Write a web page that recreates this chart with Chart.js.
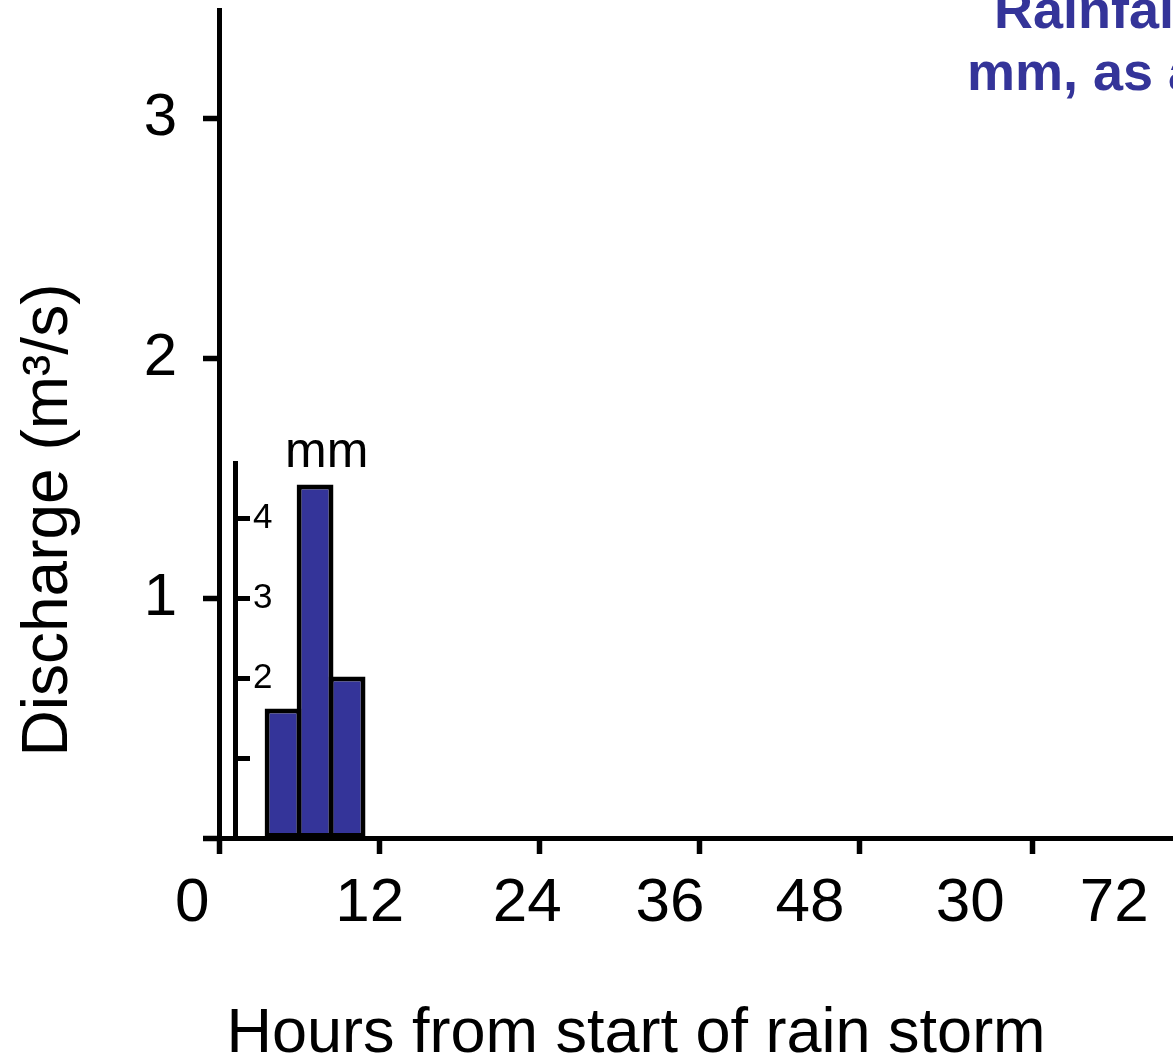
<!DOCTYPE html>
<html>
<head>
<meta charset="utf-8">
<title>Storm hydrograph</title>
<script src="https://cdn.jsdelivr.net/npm/chart.js@4.4.0/dist/chart.umd.min.js"></script>
<style>
  html, body { margin: 0; padding: 0; background: #fff; }
  canvas { display: block; }
</style>
</head>
<body>
<canvas id="hydrograph" width="1173" height="1063"></canvas>
<script>
// rainfall bars: hour at the bar centre, depth in mm
const rainHours = [4.8, 7.2, 9.6];
const rainMm = [1.62, 4.42, 2.02];

// discharge axis (m3/s)
const dischargeTicks = [0, 1, 2, 3];
const dischargeLabels = ['', '1', '2', '3'];

// hour axis: tick marks and printed labels do not line up exactly
const hourTicks = [0, 12, 24, 36, 48, 61];
const hourLabelPos = [-2.0, 11.3, 23.1, 33.8, 44.3, 56.3, 67.1];
const hourLabels = ['0', '12', '24', '36', '48', '30', '72'];

// small rainfall axis inside the plot
const rainTicks = [1, 2, 3, 4];
const rainLabels = ['', '2', '3', '4'];

const FONT = "'Liberation Sans', Arial, Helvetica, sans-serif";
const HOUR_MAX = 71.5;
const DISCHARGE_MAX = 3.45;
const RAIN_MAX = 4.69;
const RAIN_AXIS_AT = 1.2;      // hours
const RAIN_AXIS_TOP = 1.5625;  // same height in m3/s
const PLOT_LEFT = 219;
const PLOT_BOTTOM = 838;
const TICK_LEN = 16;
const LINE_W = 5;
const BLUE = '#343499';

// keep scale boxes at a fixed size, no extra label padding
function fixBox(scale, size) {
  if (scale.isHorizontal()) scale.height = size;
  else scale.width = size;
  scale.paddingTop = scale.paddingBottom = scale.paddingLeft = scale.paddingRight = 0;
}

const setTicks = values => scale => {
  scale.ticks = values.map(v => ({ value: v }));
};

// move the rainfall axis into the plot, on the hour axis near zero
const rainAxisPlacer = {
  id: 'rainAxisPlacer',
  afterLayout(chart) {
    const s = chart.scales.rain;
    const x = chart.scales.x.getPixelForValue(RAIN_AXIS_AT);
    s.left = x;
    s.right = x + 60;
    s.width = 60;
    s.top = chart.scales.y.getPixelForValue(RAIN_AXIS_TOP);
    s.bottom = chart.scales.y.getPixelForValue(0);
    s.height = s.bottom - s.top;
    s.configure();
  }
};

// axis titles and the rainfall note
const titles = {
  id: 'titles',
  afterDraw(chart) {
    const ctx = chart.ctx;
    const rain = chart.scales.rain;
    ctx.save();
    ctx.fillStyle = '#000';

    ctx.font = `64px ${FONT}`;
    ctx.textAlign = 'center';
    ctx.textBaseline = 'middle';
    ctx.save();
    ctx.translate(49, 520);
    ctx.rotate(-Math.PI / 2);
    ctx.fillText('Discharge (m\u00b3/s)', 0, 0);
    ctx.restore();

    ctx.font = `63px ${FONT}`;
    ctx.textBaseline = 'alphabetic';
    ctx.fillText('Hours from start of rain storm', 636, 1052);

    ctx.font = `50px ${FONT}`;
    ctx.textAlign = 'left';
    ctx.fillText('mm', rain.left + 50, rain.top + 4);

    ctx.fillStyle = BLUE;
    ctx.font = `bold 54px ${FONT}`;
    ctx.fillText('Rainfall in', 994, 28);
    ctx.fillText('mm, as a bar', 967, 90);
    ctx.restore();
  }
};

new Chart(document.getElementById('hydrograph'), {
  type: 'bar',
  data: {
    datasets: [{
      label: 'Rainfall (mm)',
      data: rainHours.map((h, i) => ({ x: h, y: rainMm[i] })),
      xAxisID: 'x',
      yAxisID: 'rain',
      backgroundColor: BLUE,
      borderColor: '#000',
      borderWidth: 5,
      borderSkipped: false,
      categoryPercentage: 1,
      barPercentage: 1.15
    }]
  },
  options: {
    responsive: false,
    animation: false,
    layout: { padding: { top: 10, left: 0, right: 0, bottom: 0 } },
    plugins: {
      legend: { display: false },
      tooltip: { enabled: false }
    },
    scales: {
      x: {
        type: 'linear',
        position: 'bottom',
        weight: 0,
        min: 0,
        max: HOUR_MAX,
        offset: false,
        afterBuildTicks: setTicks(hourTicks),
        afterFit: s => fixBox(s, TICK_LEN),
        ticks: { display: false },
        grid: {
          offset: false,
          drawOnChartArea: false,
          drawTicks: true,
          tickLength: TICK_LEN,
          tickWidth: 5.5,
          tickColor: '#000'
        },
        border: { color: '#000', width: LINE_W }
      },
      hourLabels: {
        type: 'linear',
        axis: 'x',
        position: 'bottom',
        weight: 1,
        min: 0,
        max: HOUR_MAX,
        offset: false,
        afterBuildTicks: setTicks(hourLabelPos),
        afterFit: s => fixBox(s, s.chart.height - PLOT_BOTTOM - TICK_LEN),
        ticks: {
          autoSkip: false,
          maxRotation: 0,
          minRotation: 0,
          padding: 13,
          color: '#000',
          font: { family: FONT, size: 62 },
          callback: (v, i) => hourLabels[i]
        },
        grid: { display: false, drawTicks: false, offset: false },
        border: { display: false }
      },
      y: {
        type: 'linear',
        position: 'left',
        min: 0,
        max: DISCHARGE_MAX,
        afterBuildTicks: setTicks(dischargeTicks),
        afterFit: s => fixBox(s, PLOT_LEFT),
        ticks: {
          padding: 26,
          color: '#000',
          font: { family: FONT, size: 60 },
          callback: (v, i) => dischargeLabels[i]
        },
        grid: {
          drawOnChartArea: false,
          tickLength: TICK_LEN,
          tickWidth: 5.5,
          tickColor: '#000'
        },
        border: { color: '#000', width: LINE_W }
      },
      rain: {
        type: 'linear',
        axis: 'y',
        position: 'right',
        min: 0,
        max: RAIN_MAX,
        afterBuildTicks: setTicks(rainTicks),
        afterFit: s => fixBox(s, 0),
        ticks: {
          padding: 3,
          color: '#000',
          font: { family: FONT, size: 35 },
          callback: (v, i) => rainLabels[i]
        },
        grid: {
          drawOnChartArea: false,
          tickLength: 15,
          tickWidth: 5,
          tickColor: '#000'
        },
        border: { color: '#000', width: LINE_W }
      }
    }
  },
  plugins: [rainAxisPlacer, titles]
});
</script>
</body>
</html>
